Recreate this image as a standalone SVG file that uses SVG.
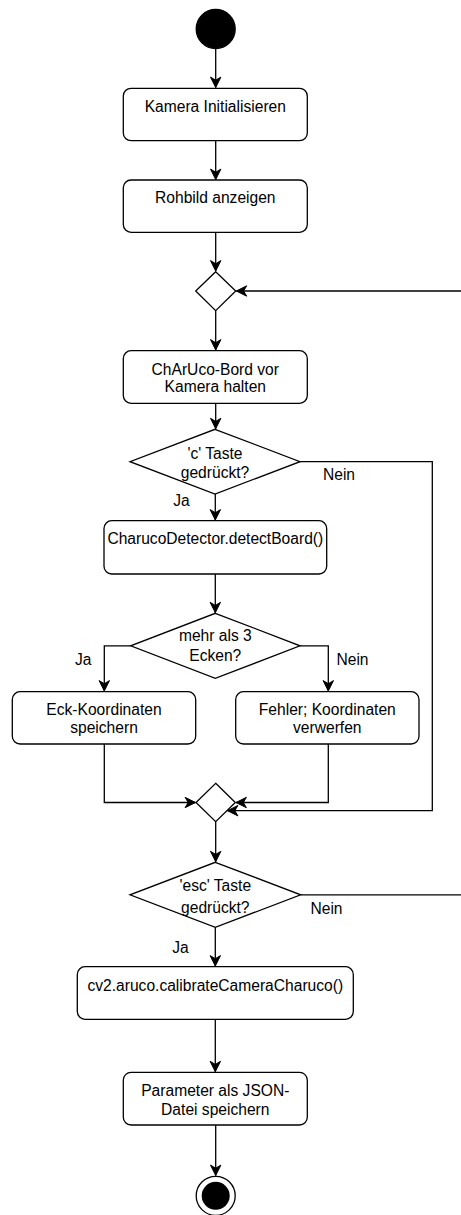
<svg xmlns="http://www.w3.org/2000/svg" width="461" height="1215" viewBox="0 0 461 1215">
<style>
.box{fill:#fff;stroke:#000;stroke-width:1.3}
.dia{fill:#fff;stroke:#000;stroke-width:1.3}
.edge{fill:none;stroke:#000;stroke-width:1.3}
text{font-family:"Liberation Sans",Arial,sans-serif;font-size:15.6px;fill:#000;text-anchor:middle}
</style>
<defs>
<marker id="arr" markerUnits="userSpaceOnUse" markerWidth="14" markerHeight="14" viewBox="-12 -7 14 14" refX="0" refY="0" orient="auto">
<path d="M0,0 L-10.4,-5.2 L-7.3,0 L-10.4,5.2 Z" fill="#000" stroke="#000" stroke-width="1"/>
</marker>
</defs>
<g id="connectors">
<path class="edge" d="M215.7,49 V87.5" marker-end="url(#arr)"/>
<path class="edge" d="M215.7,140.7 V179.5" marker-end="url(#arr)"/>
<path class="edge" d="M215.7,232.3 V271" marker-end="url(#arr)"/>
<path class="edge" d="M215.7,310.7 V350" marker-end="url(#arr)"/>
<path class="edge" d="M215.7,403.3 V428.7" marker-end="url(#arr)"/>
<path class="edge" d="M300,461.7 H432.3 V810.7 H227.5" marker-end="url(#arr)"/>
<path class="edge" d="M215.3,494 V520" marker-end="url(#arr)"/>
<path class="edge" d="M215.3,574 V612.7" marker-end="url(#arr)"/>
<path class="edge" d="M130.7,645.8 H104.3 V691" marker-end="url(#arr)"/>
<path class="edge" d="M300,645.8 H328.3 V691" marker-end="url(#arr)"/>
<path class="edge" d="M104.3,744 V802.5 H195.5" marker-end="url(#arr)"/>
<path class="edge" d="M328.3,744 V802.5 H236" marker-end="url(#arr)"/>
<path class="edge" d="M215.7,821.7 V861.7" marker-end="url(#arr)"/>
<path class="edge" d="M300.7,894.8 H475 V291 H236.3" marker-end="url(#arr)"/>
<path class="edge" d="M215.3,927.3 V966" marker-end="url(#arr)"/>
<path class="edge" d="M215.3,1019.3 V1071.7" marker-end="url(#arr)"/>
<path class="edge" d="M215.7,1125 V1175.5" marker-end="url(#arr)"/>
<text x="339" y="479.5">Nein</text>
<text x="181.5" y="506">Ja</text>
<text x="83.3" y="664.5">Ja</text>
<text x="352.5" y="664.5">Nein</text>
<text x="326.5" y="913.5">Nein</text>
<text x="180.5" y="952.5">Ja</text>
</g>
<g id="start"><circle cx="215.7" cy="29" r="19.5" fill="#000" stroke="#000" stroke-width="1.3"/></g>
<g id="n1"><rect class="box" x="123.3" y="88.3" width="184" height="52.4" rx="7.8"/><text x="215.3" y="111.7">Kamera Initialisieren</text></g>
<g id="n2"><rect class="box" x="123.3" y="180" width="184" height="52.3" rx="7.8"/><text x="215.3" y="203">Rohbild anzeigen</text></g>
<g id="m1"><polygon class="dia" points="215.7,271.7 235.7,291 215.7,310.7 195.7,291"/></g>
<g id="n3"><rect class="box" x="123.3" y="350.7" width="184" height="52.6" rx="7.8"/><text x="215.3" y="374.5">ChArUco-Bord vor</text><text x="215.3" y="392.2">Kamera halten</text></g>
<g id="d1"><polygon class="dia" points="215,429.3 300,461.7 215,494 130,461.7"/><text x="215" y="458.5">'c' Taste</text><text x="215" y="477.8">gedrückt?</text></g>
<g id="n4"><rect class="box" x="104" y="520.7" width="222.7" height="53.3" rx="7.8"/><text x="215.3" y="543.5">CharucoDetector.detectBoard()</text></g>
<g id="d2"><polygon class="dia" points="215.3,613.3 300,645.8 215.3,678.3 130.7,645.8"/><text x="215.3" y="641">mehr als 3</text><text x="215.3" y="661">Ecken?</text></g>
<g id="n5"><rect class="box" x="12.3" y="691.7" width="183.4" height="52.3" rx="7.8"/><text x="104" y="715">Eck-Koordinaten</text><text x="104" y="732.7">speichern</text></g>
<g id="n6"><rect class="box" x="235.7" y="691.7" width="183.3" height="52.3" rx="7.8"/><text x="327.3" y="715">Fehler; Koordinaten</text><text x="327.3" y="732.7">verwerfen</text></g>
<g id="m2"><polygon class="dia" points="215.7,783.3 235.3,802.5 215.7,821.7 196,802.5"/></g>
<g id="d3"><polygon class="dia" points="215.3,862.3 300.7,894.8 215.3,927.3 130,894.8"/><text x="215.3" y="891">'esc' Taste</text><text x="215.3" y="912.7">gedrückt?</text></g>
<g id="n7"><rect class="box" x="77.3" y="966.7" width="276" height="52.6" rx="7.8"/><text x="215.3" y="991">cv2.aruco.calibrateCameraCharuco()</text></g>
<g id="n8"><rect class="box" x="123.3" y="1072.3" width="184" height="52.7" rx="7.8"/><text x="215.3" y="1096">Parameter als JSON-</text><text x="215.3" y="1114.5">Datei speichern</text></g>
<g id="end"><circle cx="215.7" cy="1195.8" r="19.5" fill="#fff" stroke="#000" stroke-width="1.3"/><circle cx="215.7" cy="1195.8" r="14" fill="#000"/></g>
</svg>
